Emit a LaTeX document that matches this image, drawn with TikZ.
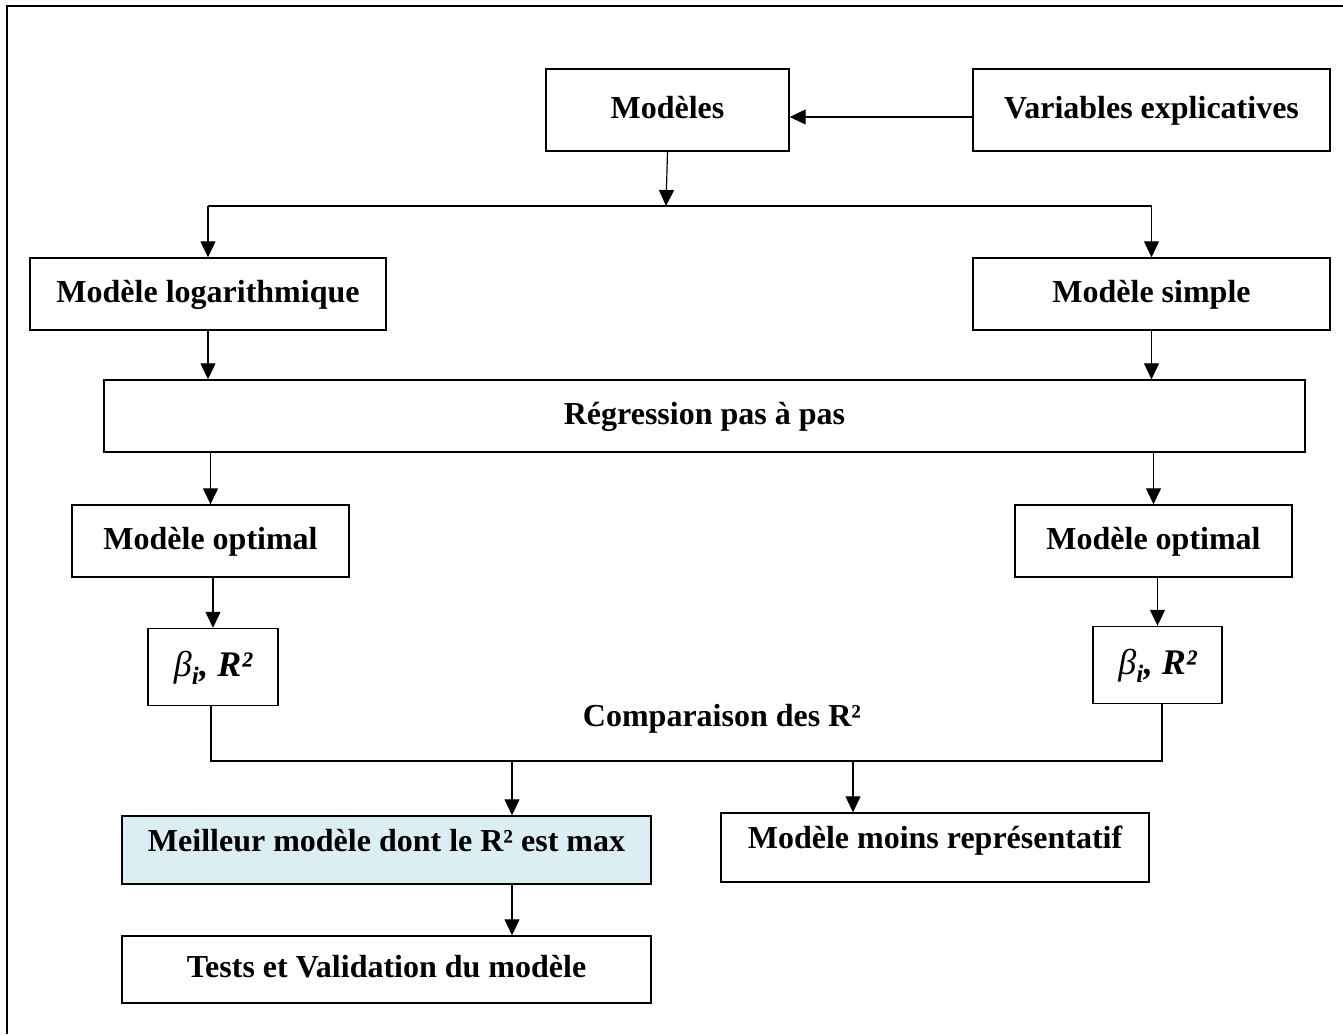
\documentclass[tikz,border=0pt]{standalone}
\usepackage{fontspec}
\setmainfont{Liberation Serif}
\usetikzlibrary{arrows.meta}
\definecolor{bestfill}{HTML}{DAEEF3}
\begin{document}
\begin{tikzpicture}[x=1pt,y=-1pt,
  box/.style={draw=black,line width=1.4pt,rectangle,inner sep=0pt,
    font=\fontsize{32}{38}\selectfont\bfseries,text height=22pt,text depth=6pt},
  txt/.style={inner sep=0pt,font=\fontsize{32}{38}\selectfont\bfseries,text height=22pt,text depth=6pt},
  betatxt/.style={font=\fontsize{36}{42}\selectfont\bfseries\itshape,text height=24pt,text depth=6pt},
  arr/.style={line width=1.2pt,-{Triangle[length=16pt,width=15pt]}},
  ln/.style={line width=1.2pt}]
\useasboundingbox (0,0) rectangle (1343,1034);
% outer frame
\draw[line width=2.6pt] (7,1034) -- (7,6) -- (1343,6);
% boxes
\node[box,minimum width=243pt,minimum height=82pt] (mod) at (667.5,110) {Modèles};
\node[box,minimum width=357pt,minimum height=82pt] (var) at (1151.5,110) {Variables explicatives};
\node[box,minimum width=356pt,minimum height=72pt] (log) at (208,294) {Modèle logarithmique};
\node[box,minimum width=357pt,minimum height=72pt] (simp) at (1151.5,294) {Modèle simple};
\node[box,minimum width=1201pt,minimum height=72pt] (reg) at (704.5,416) {Régression pas à pas};
\node[box,minimum width=277pt,minimum height=72pt] (optL) at (210.5,541) {Modèle optimal};
\node[box,minimum width=277pt,minimum height=72pt] (optR) at (1153.5,541) {Modèle optimal};
\node[box,betatxt,minimum width=130pt,minimum height=77pt] (betaL) at (213,667) {{\mdseries β}\textsubscript{i}, R²};
\node[box,betatxt,minimum width=129pt,minimum height=77pt] (betaR) at (1157.5,665) {{\mdseries β}\textsubscript{i}, R²};
\node[txt] (cmp) at (722,718) {Comparaison des R²};
\node[box,fill=bestfill,minimum width=529pt,minimum height=68pt] (best) at (386.5,850) {};
\node[txt] (bestt) at (386.5,843) {Meilleur modèle dont le R² est max};
\node[box,minimum width=428pt,minimum height=69pt] (moins) at (935,847.5) {};
\node[txt] (moinst) at (935,840) {Modèle moins représentatif};
\node[box,minimum width=529pt,minimum height=67pt] (tests) at (386.5,969.5) {Tests et Validation du modèle};
% connectors
\draw[arr] ([yshift=-7pt]var.west) -- ([yshift=-7pt]mod.east);
\coordinate (br) at (666,206);
\draw[arr] (mod.south) -- (br);
\draw[ln] (log.north |- br) -- (simp.north |- br);
\draw[arr] (log.north |- br) -- (log.north);
\draw[arr] (simp.north |- br) -- (simp.north);
\draw[arr] (log.south) -- (log.south |- reg.north);
\draw[arr] (simp.south) -- (simp.south |- reg.north);
\draw[arr] (optL.north |- reg.south) -- (optL.north);
\draw[arr] (optR.north |- reg.south) -- (optR.north);
\draw[arr] (betaL.north |- optL.south) -- (betaL.north);
\draw[arr] (betaR.north |- optR.south) -- (betaR.north);
\coordinate (cL) at (211,761);
\coordinate (cR) at (1162,761);
\draw[ln] ([xshift=-2pt]betaL.south) -- ([xshift=-2pt]betaL.south |- cL) -- (cR) -- (cR |- betaR.south);
\coordinate (c1) at (512,761);
\coordinate (c2) at (853,761);
\draw[arr] (c1) -- (c1 |- best.north);
\draw[arr] (c2) -- (c2 |- moins.north);
\draw[arr] (best.south -| c1) -- (tests.north -| c1);
\end{tikzpicture}
\end{document}
